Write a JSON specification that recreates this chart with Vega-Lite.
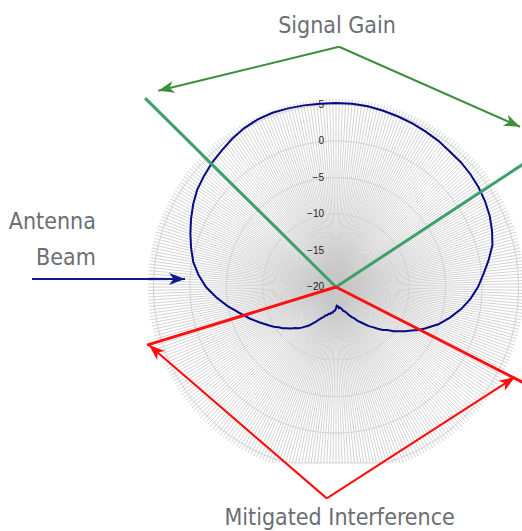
{
  "$schema": "https://vega.github.io/schema/vega-lite/v6.json",
  "width": 522,
  "height": 531,
  "autosize": {"type": "none"},
  "padding": 0,
  "background": "white",
  "config": {"view": {"stroke": null}},
  "resolve": {"scale": {"color": "independent"}},
  "datasets": {
    "spokes": [0,1,2,3,4,5,6,7,8,9,10,11,12,13,14,15,16,17,18,19,20,21,22,23,24,25,26,27,28,29,30,31,32,33,34,35,36,37,38,39,40,41,42,43,44,45,46,47,48,49,50,51,52,53,54,55,56,57,58,59,60,61,62,63,64,65,66,67,68,69,70,71,72,73,74,75,76,77,78,79,80,81,82,83,84,85,86,87,88,89,90,91,92,93,94,95,96,97,98,99,100,101,102,103,104,105,106,107,108,109,110,111,112,113,114,115,116,117,118,119,120,121,122,123,124,125,126,127,128,129,130,131,132,133,134,135,136,137,138,139,140,141,142,143,144,145,146,147,148,149,150,151,152,153,154,155,156,157,158,159,160,161,162,163,164,165,166,167,168,169,170,171,172,173,174,175,176,177,178,179,180,181,182,183,184,185,186,187,188,189,190,191,192,193,194,195,196,197,198,199,200,201,202,203,204,205,206,207,208,209,210,211,212,213,214,215,216,217,218,219,220,221,222,223,224,225,226,227,228,229,230,231,232,233,234,235,236,237,238,239,240,241,242,243,244,245,246,247,248,249,250,251,252,253,254,255,256,257,258,259,260,261,262,263,264,265,266,267,268,269,270,271,272,273,274,275,276,277,278,279,280,281,282,283,284,285,286,287,288,289,290,291,292,293,294,295,296,297,298,299,300,301,302,303,304,305,306,307,308,309,310,311,312,313,314,315,316,317,318,319,320,321,322,323,324,325,326,327,328,329,330,331,332,333,334,335,336,337,338,339,340,341,342,343,344,345,346,347,348,349,350,351,352,353,354,355,356,357,358,359],
    "rings": [{"g": -20}, {"g": -15}, {"g": -10}, {"g": -5}, {"g": 0}, {"g": 5}],
    "beam": [
      {"deg": 0, "gain": 5.21}, {"deg": 5, "gain": 5.21}, {"deg": 10, "gain": 5.14}, {"deg": 15, "gain": 5.0},
      {"deg": 20, "gain": 4.86}, {"deg": 25, "gain": 4.73}, {"deg": 30, "gain": 4.59}, {"deg": 35, "gain": 4.45},
      {"deg": 40, "gain": 4.25}, {"deg": 45, "gain": 4.18}, {"deg": 50, "gain": 4.04}, {"deg": 55, "gain": 3.84},
      {"deg": 60, "gain": 3.56}, {"deg": 65, "gain": 3.22}, {"deg": 70, "gain": 2.74}, {"deg": 75, "gain": 2.19},
      {"deg": 80, "gain": 1.23}, {"deg": 85, "gain": 0.27}, {"deg": 90, "gain": -0.55}, {"deg": 95, "gain": -1.51},
      {"deg": 100, "gain": -2.6}, {"deg": 105, "gain": -3.84}, {"deg": 110, "gain": -5.07}, {"deg": 115, "gain": -6.58},
      {"deg": 117.5, "gain": -7.25}, {"deg": 120, "gain": -8.08}, {"deg": 122.5, "gain": -8.7}, {"deg": 125, "gain": -9.45},
      {"deg": 127.5, "gain": -10.05}, {"deg": 130, "gain": -10.82}, {"deg": 132.5, "gain": -11.3}, {"deg": 135, "gain": -11.92},
      {"deg": 137.5, "gain": -12.55}, {"deg": 140, "gain": -13.01}, {"deg": 142.5, "gain": -13.62}, {"deg": 145, "gain": -14.11},
      {"deg": 147.5, "gain": -14.5}, {"deg": 150, "gain": -15.07}, {"deg": 152.5, "gain": -15.35}, {"deg": 155, "gain": -15.75},
      {"deg": 157.5, "gain": -16.15}, {"deg": 160, "gain": -16.44}, {"deg": 162.5, "gain": -16.55}, {"deg": 165, "gain": -16.85},
      {"deg": 167.5, "gain": -17.05}, {"deg": 170, "gain": -17.19}, {"deg": 172.5, "gain": -17.1}, {"deg": 175, "gain": -17.4},
      {"deg": 177.5, "gain": -17.45}, {"deg": 180, "gain": -17.12}, {"deg": 182.5, "gain": -16.75}, {"deg": 185, "gain": -16.71},
      {"deg": 187.5, "gain": -16.45}, {"deg": 190, "gain": -16.44}, {"deg": 192.5, "gain": -16.2}, {"deg": 195, "gain": -16.23},
      {"deg": 197.5, "gain": -15.95}, {"deg": 200, "gain": -15.89}, {"deg": 202.5, "gain": -15.55}, {"deg": 205, "gain": -15.34},
      {"deg": 207.5, "gain": -14.98}, {"deg": 210, "gain": -14.52}, {"deg": 212.5, "gain": -14.1}, {"deg": 215, "gain": -13.56},
      {"deg": 217.5, "gain": -13.2}, {"deg": 220, "gain": -12.74}, {"deg": 222.5, "gain": -12.35}, {"deg": 225, "gain": -12.05},
      {"deg": 227.5, "gain": -11.6}, {"deg": 230, "gain": -11.23}, {"deg": 232.5, "gain": -10.75}, {"deg": 235, "gain": -10.41},
      {"deg": 237.5, "gain": -9.9}, {"deg": 240, "gain": -9.45}, {"deg": 245, "gain": -8.49}, {"deg": 250, "gain": -7.4},
      {"deg": 255, "gain": -6.3}, {"deg": 260, "gain": -4.93}, {"deg": 265, "gain": -3.56}, {"deg": 270, "gain": -2.19},
      {"deg": 275, "gain": -1.1}, {"deg": 280, "gain": -0.14}, {"deg": 285, "gain": 0.55}, {"deg": 290, "gain": 1.23},
      {"deg": 295, "gain": 1.92}, {"deg": 300, "gain": 2.6}, {"deg": 305, "gain": 3.22}, {"deg": 310, "gain": 3.63},
      {"deg": 315, "gain": 4.04}, {"deg": 320, "gain": 4.38}, {"deg": 325, "gain": 4.79}, {"deg": 330, "gain": 5.14},
      {"deg": 335, "gain": 5.34}, {"deg": 340, "gain": 5.41}, {"deg": 345, "gain": 5.34}, {"deg": 350, "gain": 5.27},
      {"deg": 355, "gain": 5.21}, {"deg": 360, "gain": 5.21}
    ],
    "sectors": [
      {"sector": "Signal Gain", "bearing": -45.3, "len": 36.8},
      {"sector": "Signal Gain", "bearing": 56.7, "len": 36.8},
      {"sector": "Mitigated Interference", "bearing": -107.06, "len": 27.1},
      {"sector": "Mitigated Interference", "bearing": 117.06, "len": 30}
    ],
    "arrows": [
      {"to": "Signal Gain", "x0": 0.41, "y0": 32.92, "x1": -24.34, "y1": 26.89},
      {"to": "Signal Gain", "x0": 0.41, "y0": 32.92, "x1": 25.21, "y1": 21.96},
      {"to": "Mitigated Interference", "x0": -1.27, "y0": -28.95, "x1": -25.62, "y1": -7.95},
      {"to": "Mitigated Interference", "x0": -1.27, "y0": -28.95, "x1": 24.52, "y1": -12.33},
      {"to": "Antenna Beam", "x0": -41.64, "y0": 1.1, "x1": -20.68, "y1": 1.1}
    ],
    "titles": [
      {"label": "Signal Gain", "x": 0.14, "y": 34.8},
      {"label": "Mitigated Interference", "x": 0.5, "y": -32.6}
    ],
    "sideTitles": [
      {"label": "Antenna", "x": -32.9, "y": 7.95},
      {"label": "Beam", "x": -32.9, "y": 3.0}
    ]
  },
  "layer": [
    {
      "data": {"name": "spokes"},
      "transform": [
        {"calculate": "cos(datum.data*PI/180)", "as": "c"},
        {"calculate": "sin(datum.data*PI/180)", "as": "s"},
        {"calculate": "datum.c < -0.936 ? -24.1/datum.c : 25.75", "as": "L"},
        {"calculate": "datum.L*datum.s", "as": "xe"},
        {"calculate": "datum.L*datum.c", "as": "ye"},
        {"calculate": "0", "as": "o"}
      ],
      "mark": {"type": "rule", "color": "#c8c8c8", "strokeWidth": 0.8},
      "encoding": {
        "x": {"field": "o", "type": "quantitative", "scale": {"domain": [-46.03, 25.48], "nice": false, "zero": false}, "axis": null},
        "y": {"field": "o", "type": "quantitative", "scale": {"domain": [-33.42, 39.32], "nice": false, "zero": false}, "axis": null},
        "x2": {"field": "xe"},
        "y2": {"field": "ye"}
      }
    },
    {
      "data": {"name": "spokes"},
      "transform": [
        {"calculate": "[-15, -10, -5, 0, 5]", "as": "g"},
        {"flatten": ["g"]},
        {"calculate": "(datum.g + 20) * sin(datum.data*PI/180)", "as": "rx"},
        {"calculate": "max(-24.1, (datum.g + 20) * cos(datum.data*PI/180))", "as": "ry"}
      ],
      "mark": {"type": "line", "interpolate": "linear-closed", "color": "#d2d2d2", "strokeWidth": 1},
      "encoding": {
        "x": {"field": "rx", "type": "quantitative", "scale": {"domain": [-46.03, 25.48], "nice": false, "zero": false}, "axis": null},
        "y": {"field": "ry", "type": "quantitative", "scale": {"domain": [-33.42, 39.32], "nice": false, "zero": false}, "axis": null},
        "detail": {"field": "g", "type": "nominal"},
        "order": {"field": "data", "type": "quantitative"}
      }
    },
    {
      "data": {"name": "rings"},
      "transform": [
        {"calculate": "datum.g + 20", "as": "r"},
        {"calculate": "0", "as": "o"}
      ],
      "mark": {"type": "text", "align": "right", "baseline": "middle", "dx": -12, "fontSize": 10, "font": "Liberation Sans", "color": "#222222"},
      "encoding": {
        "x": {"field": "o", "type": "quantitative", "scale": {"domain": [-46.03, 25.48], "nice": false, "zero": false}, "axis": null},
        "y": {"field": "r", "type": "quantitative", "scale": {"domain": [-33.42, 39.32], "nice": false, "zero": false}, "axis": null},
        "text": {"field": "g", "type": "quantitative"}
      }
    },
    {
      "data": {"name": "beam"},
      "transform": [
        {"calculate": "(datum.gain + 20) * sin(datum.deg*PI/180)", "as": "bx"},
        {"calculate": "(datum.gain + 20) * cos(datum.deg*PI/180)", "as": "by"}
      ],
      "mark": {"type": "line", "color": "#0a0a84", "strokeWidth": 2},
      "encoding": {
        "x": {"field": "bx", "type": "quantitative", "scale": {"domain": [-46.03, 25.48], "nice": false, "zero": false}, "axis": null},
        "y": {"field": "by", "type": "quantitative", "scale": {"domain": [-33.42, 39.32], "nice": false, "zero": false}, "axis": null},
        "order": {"field": "deg", "type": "quantitative"}
      }
    },
    {
      "data": {"name": "sectors"},
      "transform": [
        {"calculate": "datum.len * sin(datum.bearing*PI/180)", "as": "xe"},
        {"calculate": "datum.len * cos(datum.bearing*PI/180)", "as": "ye"},
        {"calculate": "0", "as": "o"}
      ],
      "mark": {"type": "rule", "strokeWidth": 3},
      "encoding": {
        "x": {"field": "o", "type": "quantitative", "scale": {"domain": [-46.03, 25.48], "nice": false, "zero": false}, "axis": null},
        "y": {"field": "o", "type": "quantitative", "scale": {"domain": [-33.42, 39.32], "nice": false, "zero": false}, "axis": null},
        "x2": {"field": "xe"},
        "y2": {"field": "ye"},
        "color": {"field": "sector", "type": "nominal", "scale": {"domain": ["Signal Gain", "Mitigated Interference"], "range": ["#3ca06c", "#ff1010"]}, "legend": null}
      }
    },
    {
      "data": {"name": "arrows"},
      "mark": {"type": "rule", "strokeWidth": 2},
      "encoding": {
        "x": {"field": "x0", "type": "quantitative", "scale": {"domain": [-46.03, 25.48], "nice": false, "zero": false}, "axis": null},
        "y": {"field": "y0", "type": "quantitative", "scale": {"domain": [-33.42, 39.32], "nice": false, "zero": false}, "axis": null},
        "x2": {"field": "x1"},
        "y2": {"field": "y1"},
        "color": {"field": "to", "type": "nominal", "scale": {"domain": ["Signal Gain", "Mitigated Interference", "Antenna Beam"], "range": ["#3b8e3e", "#ff0d0d", "#0d1a8c"]}, "legend": null}
      }
    },
    {
      "data": {"name": "arrows"},
      "transform": [
        {"calculate": "(atan2(datum.x1 - datum.x0, datum.y1 - datum.y0)*180/PI + 360) % 360", "as": "ang"}
      ],
      "mark": {"type": "point", "filled": true, "opacity": 1, "size": 400, "strokeWidth": 0, "shape": "M0,0L-0.6,1.6L0,1.15L0.6,1.6Z"},
      "encoding": {
        "x": {"field": "x1", "type": "quantitative", "scale": {"domain": [-46.03, 25.48], "nice": false, "zero": false}, "axis": null},
        "y": {"field": "y1", "type": "quantitative", "scale": {"domain": [-33.42, 39.32], "nice": false, "zero": false}, "axis": null},
        "angle": {"field": "ang", "type": "quantitative", "scale": null},
        "color": {"field": "to", "type": "nominal", "scale": {"domain": ["Signal Gain", "Mitigated Interference", "Antenna Beam"], "range": ["#3b8e3e", "#ff0d0d", "#0d1a8c"]}, "legend": null}
      }
    },
    {
      "data": {"name": "titles"},
      "mark": {"type": "text", "align": "center", "baseline": "alphabetic", "fontSize": 23, "font": "Liberation Sans Narrow, Arial Narrow, DejaVu Sans Condensed, sans-serif", "color": "#6b6e74"},
      "encoding": {
        "x": {"field": "x", "type": "quantitative", "scale": {"domain": [-46.03, 25.48], "nice": false, "zero": false}, "axis": null},
        "y": {"field": "y", "type": "quantitative", "scale": {"domain": [-33.42, 39.32], "nice": false, "zero": false}, "axis": null},
        "text": {"field": "label", "type": "nominal"}
      }
    },
    {
      "data": {"name": "sideTitles"},
      "mark": {"type": "text", "align": "right", "baseline": "alphabetic", "fontSize": 23, "font": "Liberation Sans Narrow, Arial Narrow, DejaVu Sans Condensed, sans-serif", "color": "#6b6e74"},
      "encoding": {
        "x": {"field": "x", "type": "quantitative", "scale": {"domain": [-46.03, 25.48], "nice": false, "zero": false}, "axis": null},
        "y": {"field": "y", "type": "quantitative", "scale": {"domain": [-33.42, 39.32], "nice": false, "zero": false}, "axis": null},
        "text": {"field": "label", "type": "nominal"}
      }
    }
  ]
}
